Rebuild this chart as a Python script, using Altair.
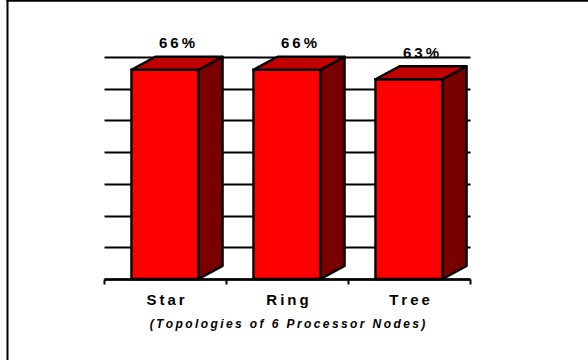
import json
import altair as alt
import pandas as pd

# Values shown on the chart
categories = ["Star", "Ring", "Tree"]
percent = [66, 66, 63]
subtitle = "(Topologies of 6 Processor Nodes)"

# Bar geometry, in data units (category units on x, percent on y)
HALF_W = 0.275   # half width of each bar's front face
DX = 0.197       # horizontal depth of the 3-D extrusion
DY = 4.1         # vertical depth of the 3-D extrusion

FONT = "Liberation Sans"
THIN = "\u2009"
EDGE = 2.4


def spaced(text):
    """Widen the tracking of a label with thin spaces."""
    return THIN.join(text)


idx = list(range(len(categories)))

front = pd.DataFrame({
    "cat": categories,
    "v": percent,
    "base": [0] * len(categories),
    "xl": [i + 0.5 - HALF_W for i in idx],
    "xr": [i + 0.5 + HALF_W for i in idx],
})

side_rows, top_rows = [], []
for i, c, v in zip(idx, categories, percent):
    xl, xr = i + 0.5 - HALF_W, i + 0.5 + HALF_W
    side_rows += [
        {"cat": c, "x": xr, "y": v, "y2": 0},
        {"cat": c, "x": xr + DX, "y": v + DY, "y2": DY},
    ]
    top_rows += [
        {"cat": c, "y": v, "x": xl, "x2": xr},
        {"cat": c, "y": v + DY, "x": xl + DX, "x2": xr + DX},
    ]
side = pd.DataFrame(side_rows)
top = pd.DataFrame(top_rows)

labels = pd.DataFrame({
    "lx": [i + 0.5 + DX / 2 for i in idx],
    "ly": [v + DY for v in percent],
    "text": [spaced(f"{v}%") for v in percent],
})

x_scale = alt.Scale(domain=[0, len(categories)], nice=False, zero=False)
y_scale = alt.Scale(domain=[0, 70], nice=False)

names_js = json.dumps([spaced(c) for c in categories], ensure_ascii=False)

x_ticks = [k / 2 for k in range(2 * len(categories) + 1)]
x_axis = alt.Axis(
    values=x_ticks,
    tickCount=len(x_ticks),
    labelExpr=f"datum.value % 1 ? {names_js}[floor(datum.value)] : ''",
    labelOverlap=False,
    labelFlush=False,
    labelFont=FONT,
    labelFontSize=15,
    labelFontWeight="bold",
    labelColor="black",
    labelBaseline="alphabetic",
    labelPadding=20,
    tickSize=5,
    tickWidth=2,
    tickColor="black",
    tickOpacity={"condition": {"test": "datum.value % 1", "value": 0}, "value": 1},
    domainColor="black",
    domainWidth=2.5,
    grid=False,
    title=spaced(subtitle),
    titleFont=FONT,
    titleFontSize=12,
    titleFontWeight="bold",
    titleFontStyle="italic",
    titleColor="black",
    titleBaseline="alphabetic",
    titleY=48,
)

y_ticks = list(range(0, 71, 10))
y_axis = alt.Axis(
    values=y_ticks,
    tickCount=len(y_ticks),
    labelOverlap=False,
    grid=True,
    gridColor="black",
    gridWidth=2,
    labels=False,
    ticks=False,
    domain=False,
    title=None,
)

# Gridlines and category axis
guides = alt.Chart(front).mark_rect(opacity=0).encode(
    x=alt.X("xl:Q", scale=x_scale, axis=x_axis),
    x2="xr:Q",
    y=alt.Y("v:Q", scale=y_scale, axis=y_axis),
    y2="base:Q",
)

frame_src = pd.DataFrame({"k": [0]})
frame_left = alt.Chart(frame_src).mark_rule(color="black", strokeWidth=2).encode(
    x=alt.value(-96.5), y=alt.value(-60), y2=alt.value(310)
)
frame_top = alt.Chart(frame_src).mark_rule(color="black", strokeWidth=2).encode(
    y=alt.value(-56.2), x=alt.value(-97.5), x2=alt.value(490)
)

side_faces = alt.Chart(side).mark_area(
    fill="#7A0000", stroke="black", strokeWidth=EDGE, strokeJoin="round"
).encode(
    x=alt.X("x:Q", scale=x_scale),
    y=alt.Y("y:Q", scale=y_scale),
    y2="y2:Q",
    detail="cat:N",
)

top_faces = alt.Chart(top).mark_area(
    orient="horizontal", fill="#C00000", stroke="black", strokeWidth=EDGE,
    strokeJoin="round"
).encode(
    y=alt.Y("y:Q", scale=y_scale),
    x=alt.X("x:Q", scale=x_scale),
    x2="x2:Q",
    detail="cat:N",
)

front_faces = alt.Chart(front).mark_rect(
    fill="#FF0000", stroke="black", strokeWidth=EDGE
).encode(
    x=alt.X("xl:Q", scale=x_scale),
    x2="xr:Q",
    y=alt.Y("v:Q", scale=y_scale),
    y2="base:Q",
)

value_labels = alt.Chart(labels).mark_text(
    font=FONT, fontSize=15, fontWeight="bold", color="black",
    baseline="alphabetic", dy=-8.5
).encode(
    x=alt.X("lx:Q", scale=x_scale),
    y=alt.Y("ly:Q", scale=y_scale),
    text="text:N",
)

chart = alt.layer(
    guides, front_faces, side_faces, top_faces, value_labels, frame_left, frame_top
).properties(
    width=366,
    height=222,
    padding={"left": 104, "top": 57, "right": 118, "bottom": 81},
    autosize=alt.AutoSizeParams(type="none"),
    background="white",
).configure_view(stroke=None)

chart.save("out.html", embed_options={"renderer": "svg", "actions": False})
